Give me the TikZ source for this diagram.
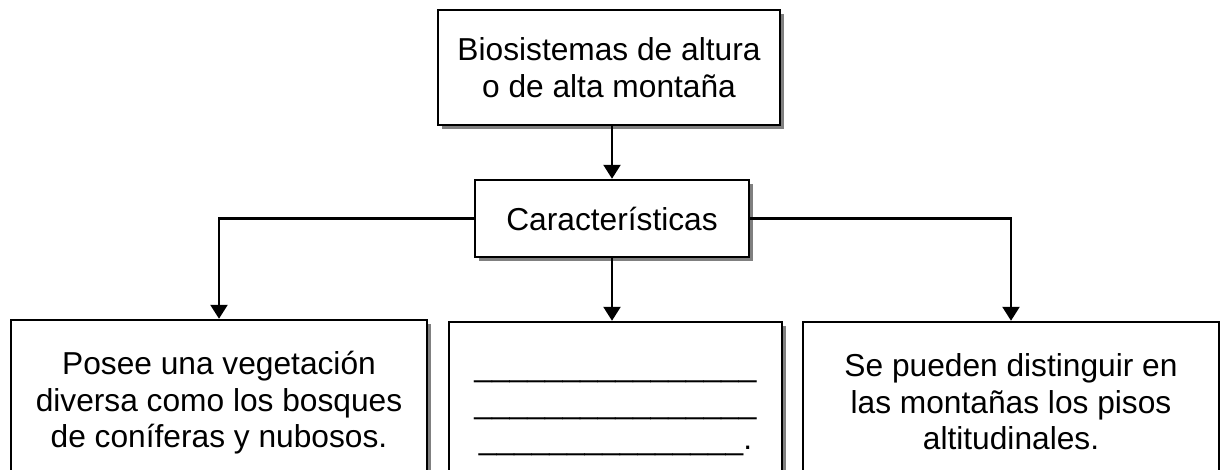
\documentclass[tikz,border=0pt]{standalone}
\usepackage{fontspec}
\setmainfont{Liberation Sans}
\usetikzlibrary{positioning,shadows,arrows.meta}
\tikzset{
	caja/.style = {draw, line width=2.5pt, fill=white, align=center,
		font=\fontsize{31.7}{36.5}\selectfont,
		drop shadow={shadow xshift=4pt, shadow yshift=-4pt, fill=black!50, opacity=1}},
	flecha/.style = {line width=2.5pt, -{Triangle[width=17pt,length=14pt]}},
}

\begin{document}
\begin{tikzpicture}[x=1pt,y=-1pt]
	\useasboundingbox (0,0) rectangle (1220,469);
	\clip (0,0) rectangle (1220,469);
	% cajas
	\node[caja, minimum width=342pt, minimum height=115pt] (bio) at (609,67.5) {Biosistemas de altura\\o de alta montaña};
	\node[caja, minimum width=274pt, minimum height=77pt] (carac) at (612,218.5) {Características};
	\node[caja, minimum width=416pt, minimum height=168pt] (veg) at (219,404) {\strut Posee una vegetación\\diversa como los bosques\\de coníferas y nubosos.\strut};
	\node[caja, minimum width=333pt, minimum height=168pt] (vacio) at (615.5,406) {\strut\_\_\_\_\_\_\_\_\_\_\_\_\_\_\_\_\\\strut\_\_\_\_\_\_\_\_\_\_\_\_\_\_\_\_\\\strut\_\_\_\_\_\_\_\_\_\_\_\_\_\_\_.};
	\node[caja, minimum width=416pt, minimum height=168pt] (pisos) at (1011,406) {\strut Se pueden distinguir en\\las montañas los pisos\\altitudinales.\strut};
	% conectores
	\draw[flecha] (carac.north |- bio.south) -- (carac.north);
	\draw[flecha] (carac.south) -- (carac.south |- vacio.north);
	\draw[flecha] (carac.west) -| (veg.north);
	\draw[flecha] (carac.east) -| (pisos.north);
\end{tikzpicture}
\end{document}
